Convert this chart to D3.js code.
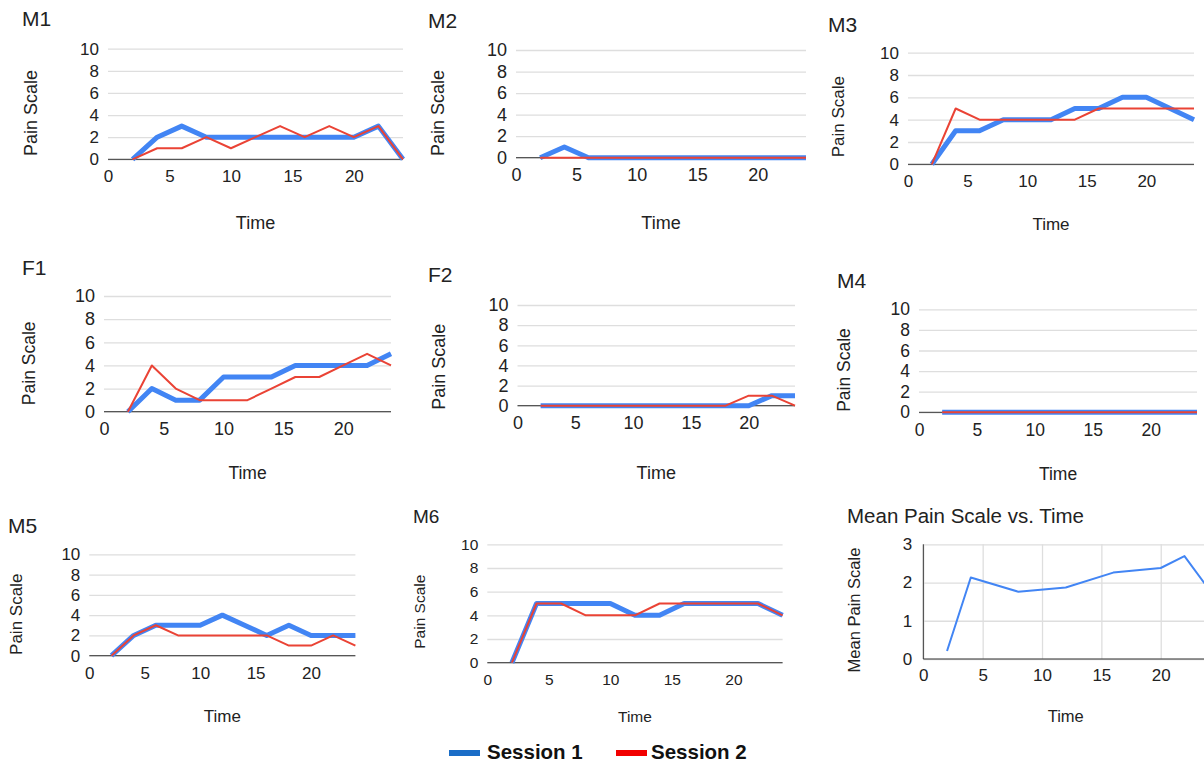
<!DOCTYPE html>
<html>
<head>
<meta charset="utf-8">
<script src="https://cdn.jsdelivr.net/npm/d3@7"></script>
<style>
  body { margin: 0; background: #fff; }
  svg { display: block; font-family: "Liberation Sans", Arial, sans-serif; }
</style>
</head>
<body>
<svg width="1204" height="763"></svg>
<script>
// times (hours) where pain was recorded
var times = [2, 4, 6, 8, 10, 12, 14, 16, 18, 20, 22, 24];

var m1Session1 = [0, 2, 3, 2, 2, 2, 2, 2, 2, 2, 3, 0];
var m1Session2 = [0, 1, 1, 2, 1, 2, 3, 2, 3, 2, 3, 0];
var m2Session1 = [0, 1, 0, 0, 0, 0, 0, 0, 0, 0, 0, 0];
var m2Session2 = [0, 0, 0, 0, 0, 0, 0, 0, 0, 0, 0, 0];
var m3Session1 = [0, 3, 3, 4, 4, 4, 5, 5, 6, 6, 5, 4];
var m3Session2 = [0, 5, 4, 4, 4, 4, 4, 5, 5, 5, 5, 5];
var f1Session1 = [0, 2, 1, 1, 3, 3, 3, 4, 4, 4, 4, 5];
var f1Session2 = [0, 4, 2, 1, 1, 1, 2, 3, 3, 4, 5, 4];
var f2Session1 = [0, 0, 0, 0, 0, 0, 0, 0, 0, 0, 1, 1];
var f2Session2 = [0, 0, 0, 0, 0, 0, 0, 0, 0, 1, 1, 0];
var m4Session1 = [0, 0, 0, 0, 0, 0, 0, 0, 0, 0, 0, 0];
var m4Session2 = [0, 0, 0, 0, 0, 0, 0, 0, 0, 0, 0, 0];
var m5Session1 = [0, 2, 3, 3, 3, 4, 3, 2, 3, 2, 2, 2];
var m5Session2 = [0, 2, 3, 2, 2, 2, 2, 2, 1, 1, 2, 1];
var m6Session1 = [0, 5, 5, 5, 5, 4, 4, 5, 5, 5, 5, 4];
var m6Session2 = [0, 5, 5, 4, 4, 4, 5, 5, 5, 5, 5, 4];

var meanTimes = [2, 4, 8, 12, 16, 20, 22, 24];
var meanValues = [0.21, 2.13, 1.76, 1.87, 2.26, 2.38, 2.69, 1.85];

var xTicks = [0, 5, 10, 15, 20];
var yTicks = [0, 2, 4, 6, 8, 10];
var meanYTicks = [0, 1, 2, 3];
var legendLabels = ["Session 1", "Session 2"];

// panel placement (screen pixels)
var layout = {
  M1: {tx: 22,  ty: 26,  x0: 108,   x1: 403,   yt: 48.7,  yb: 159.3, ylx: 37,  yly: 113,   xly: 229,   tf: 21, kf: 17, af: 18},
  M2: {tx: 428, ty: 28,  x0: 516,   x1: 806,   yt: 50,    yb: 157.7, ylx: 444, yly: 113,   xly: 229,   tf: 21, kf: 18, af: 18},
  M3: {tx: 828, ty: 32,  x0: 908,   x1: 1194,  yt: 52.7,  yb: 164.3, ylx: 844, yly: 116.7, xly: 230,   tf: 21, kf: 17, af: 17},
  F1: {tx: 22,  ty: 275, x0: 104,   x1: 391,   yt: 296,   yb: 411.7, ylx: 35,  yly: 363.3, xly: 479.3, tf: 21, kf: 18, af: 17.5},
  F2: {tx: 428, ty: 282, x0: 517.5, x1: 795,   yt: 305,   yb: 405.7, ylx: 445, yly: 366.7, xly: 479.3, tf: 21, kf: 18, af: 18},
  M4: {tx: 837, ty: 288, x0: 919,   x1: 1197,  yt: 309.3, yb: 412.3, ylx: 850, yly: 370,   xly: 480,   tf: 21, kf: 17.5, af: 17.5},
  M5: {tx: 8,   ty: 533, x0: 89.3,  x1: 355.4, yt: 554.3, yb: 655.7, ylx: 22,  yly: 614.3, xly: 721.7, tf: 21, kf: 17, af: 17},
  M6: {tx: 413, ty: 523, x0: 487.3, x1: 782.6, yt: 544.3, yb: 662.7, ylx: 425, yly: 611.7, xly: 721.7, tf: 19, kf: 15.5, af: 15.5}
};
var meanLayout = {tx: 847, ty: 523, x0: 923.3, x1: 1208.2, yt: 544.3, yb: 659, ylx: 860, yly: 610, xly: 722, tf: 20.5, kf: 17, af: 16.5};

var blue = "#4285f4", red = "#ea4335", grid = "#dedede", base = "#333", ink = "#222";
var fmt = d3.format("d");

var svg = d3.select("svg");

function labels(g, L, title, yTitle) {
  g.append("text").attr("x", L.tx).attr("y", L.ty)
    .style("font-size", L.tf + "px").attr("fill", ink).text(title);
  g.append("text")
    .attr("transform", "translate(" + L.ylx + "," + L.yly + ") rotate(-90)")
    .attr("text-anchor", "middle")
    .style("font-size", L.af + "px").attr("fill", ink).text(yTitle);
  g.append("text").attr("x", (L.x0 + L.x1) / 2).attr("y", L.xly)
    .attr("text-anchor", "middle")
    .style("font-size", L.af + "px").attr("fill", ink).text("Time");
}

function styleAxis(ax, L) {
  ax.select(".domain").remove();
  ax.selectAll("line").attr("stroke", grid).attr("stroke-width", 1.3);
  ax.selectAll("text").attr("fill", ink)
    .style("font-size", L.kf + "px").style("font-family", "'Liberation Sans', Arial, sans-serif");
}

function drawPanel(name, s1, s2) {
  var L = layout[name];
  var g = svg.append("g");
  var x = d3.scaleLinear().domain([0, 24]).range([L.x0, L.x1]);
  var y = d3.scaleLinear().domain([0, 10]).range([L.yb, L.yt]);

  var yAx = g.append("g").attr("transform", "translate(" + L.x0 + ",0)")
    .call(d3.axisLeft(y).tickValues(yTicks).tickFormat(fmt).tickSize(-(L.x1 - L.x0)).tickPadding(9));
  styleAxis(yAx, L);

  var xAx = g.append("g").attr("transform", "translate(0," + L.yb + ")")
    .call(d3.axisBottom(x).tickValues(xTicks).tickFormat(fmt).tickSize(0).tickPadding(11));
  styleAxis(xAx, L);

  g.append("line").attr("x1", x(0)).attr("x2", x(24)).attr("y1", y(0)).attr("y2", y(0))
    .attr("stroke", base).attr("stroke-width", 1);

  var line = d3.line().x(function(d, i) { return x(times[i]); }).y(function(d) { return y(d); });

  g.append("path").attr("d", line(s1)).attr("fill", "none")
    .attr("stroke", blue).attr("stroke-width", 5).attr("stroke-linejoin", "round");
  g.append("path").attr("d", line(s2)).attr("fill", "none")
    .attr("stroke", red).attr("stroke-width", 2).attr("stroke-linejoin", "round");

  labels(g, L, name, "Pain Scale");
}

drawPanel("M1", m1Session1, m1Session2);
drawPanel("M2", m2Session1, m2Session2);
drawPanel("M3", m3Session1, m3Session2);
drawPanel("F1", f1Session1, f1Session2);
drawPanel("F2", f2Session1, f2Session2);
drawPanel("M4", m4Session1, m4Session2);
drawPanel("M5", m5Session1, m5Session2);
drawPanel("M6", m6Session1, m6Session2);

// mean chart
(function() {
  var L = meanLayout;
  var g = svg.append("g");
  var x = d3.scaleLinear().domain([0, 24]).range([L.x0, L.x1]);
  var y = d3.scaleLinear().domain([0, 3]).range([L.yb, L.yt]);

  var yAx = g.append("g").attr("transform", "translate(" + L.x0 + ",0)")
    .call(d3.axisLeft(y).tickValues(meanYTicks).tickFormat(fmt).tickSize(-(L.x1 - L.x0)).tickPadding(11));
  styleAxis(yAx, L);
  var xAx = g.append("g").attr("transform", "translate(0," + L.yb + ")")
    .call(d3.axisBottom(x).tickValues(xTicks).tickFormat(fmt).tickSize(-(L.yb - L.yt)).tickPadding(10));
  styleAxis(xAx, L);

  g.append("line").attr("x1", x(0)).attr("x2", x(24)).attr("y1", y(0)).attr("y2", y(0))
    .attr("stroke", base).attr("stroke-width", 1);
  g.append("line").attr("x1", x(0)).attr("x2", x(0)).attr("y1", y(0)).attr("y2", y(3))
    .attr("stroke", base).attr("stroke-width", 1);

  var line = d3.line().x(function(d, i) { return x(meanTimes[i]); }).y(function(d) { return y(d); });
  g.append("path").attr("d", line(meanValues)).attr("fill", "none")
    .attr("stroke", blue).attr("stroke-width", 2).attr("stroke-linejoin", "round");

  labels(g, L, "Mean Pain Scale vs. Time", "Mean Pain Scale");
})();

// legend
var legendColors = ["#1a6dc7", "#f20000"];
var legendX = [449, 616];
var legendTextX = [38, 35];
var lg = svg.append("g").selectAll("g").data(legendLabels).enter().append("g")
  .attr("transform", function(d, i) { return "translate(" + legendX[i] + ",0)"; });
lg.append("rect").attr("x", 0).attr("y", 750).attr("width", 31).attr("height", 6)
  .attr("fill", function(d, i) { return legendColors[i]; });
lg.append("text").attr("x", function(d, i) { return legendTextX[i]; }).attr("y", 759)
  .style("font-size", "20.5px").style("font-weight", "bold").attr("fill", "#111")
  .text(function(d) { return d; });
</script>
</body>
</html>
